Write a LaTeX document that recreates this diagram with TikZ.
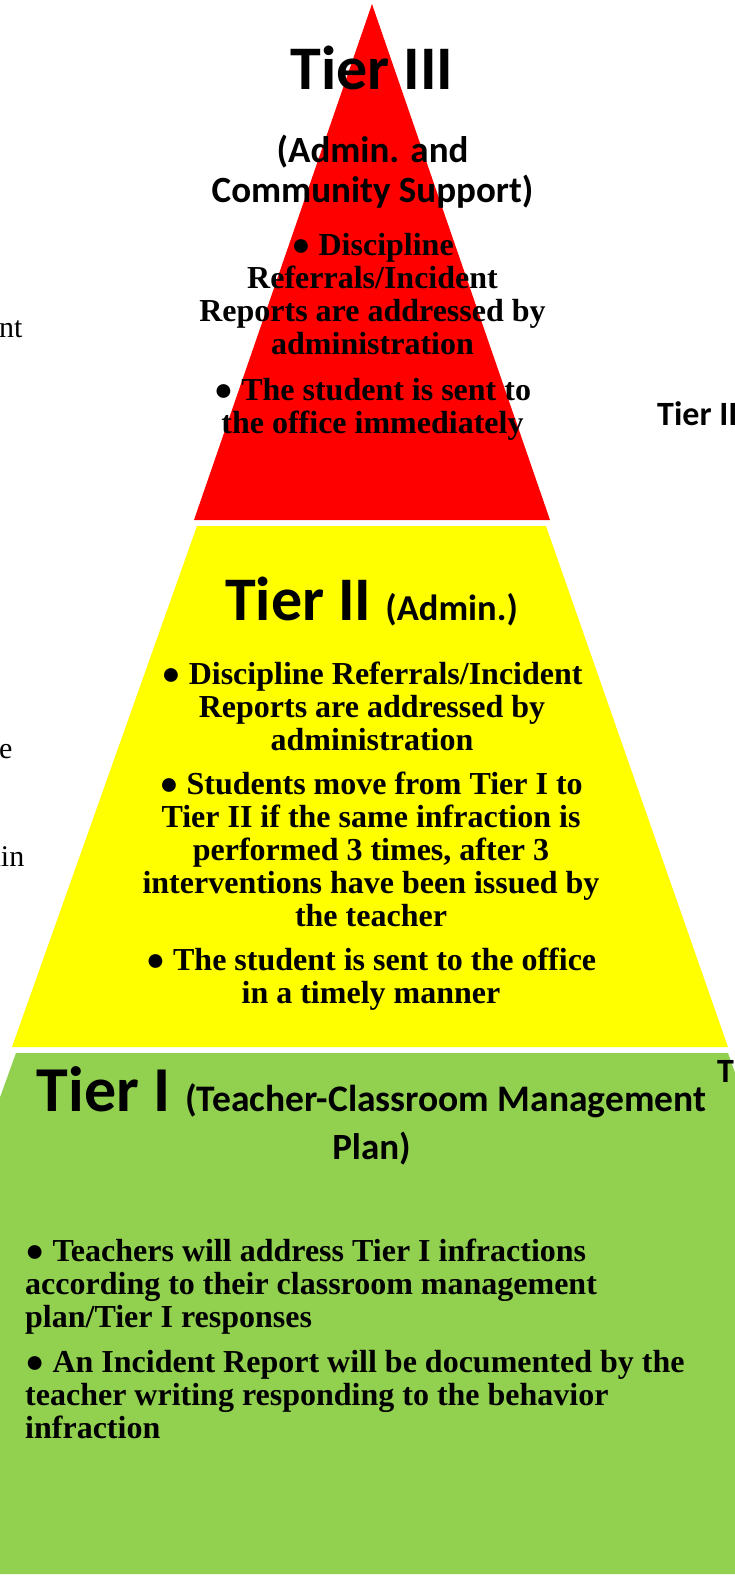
\documentclass[tikz,border=0pt]{standalone}
\usepackage{fontspec}
\setmainfont{Liberation Serif}
\newfontfamily\calibri{Carlito}
\usetikzlibrary{positioning}
\definecolor{tierred}{HTML}{FF0000}
\definecolor{tieryellow}{HTML}{FFFF00}
\definecolor{tiergreen}{HTML}{92D050}

\begin{document}
\begin{tikzpicture}[x=1pt, y=-1pt,
		tiertitle/.style={inner sep=0pt, anchor=base, font=\calibri\bfseries\fontsize{62}{62}\selectfont},
		tiersub/.style={inner sep=0pt, anchor=base, align=center, font=\calibri\bfseries\fontsize{37}{40}\selectfont},
		tierpoint/.style={inner sep=0pt, anchor=base, align=center, font=\bfseries\fontsize{32}{32.8}\selectfont},
		tierleft/.style={inner sep=0pt, anchor=base west, align=left, font=\bfseries\fontsize{32}{32.8}\selectfont},
		behindserif/.style={inner sep=0pt, font=\fontsize{30}{30}\selectfont},
		behindsans/.style={inner sep=0pt, anchor=base west, font=\calibri\bfseries\fontsize{34}{34}\selectfont}]

		\useasboundingbox (0,0) rectangle (735,1579);
		\clip (0,0) rectangle (735,1579);

		\fill[tierred]    (372,4) -- (550,520) -- (194,520) -- cycle;
		\fill[tieryellow] (197,526) -- (546,526) -- (728,1047) -- (12,1047) -- cycle;
		\fill[tiergreen]  (16,1053) -- (728,1053) -- (915,1574) -- (-172,1574) -- cycle;

		\node[tiertitle] (tier3)    at (372,89)    {Tier III};
		\node[tiersub]   (tier3sub) at (372.5,202) {(Admin. and\\Community Support)};
		\node[tierpoint] (tier3a)   at (372.5,354) {● Discipline\\Referrals/Incident\\Reports are addressed by\\administration};
		\node[tierpoint] (tier3b)   at (372.5,433) {● The student is sent to\\the office immediately};

		\node[tiertitle] (tier2)    at (371.5,620) {Tier II {\fontsize{36.5}{36.5}\selectfont (Admin.)}};
		\node[tierpoint] (tier2a)   at (372,750)   {● Discipline Referrals/Incident\\Reports are addressed by\\administration};
		\node[tierpoint] (tier2b)   at (371,926)   {● Students move from Tier I to\\Tier II if the same infraction is\\performed 3 times, after 3\\interventions have been issued by\\the teacher};
		\node[tierpoint] (tier2c)   at (371,1003)  {● The student is sent to the office\\in a timely manner};

		\node[tiertitle, font=\calibri\bfseries\fontsize{64}{64}\selectfont] (tier1) at (371.5,1111) {Tier I {\fontsize{37.5}{37.5}\selectfont (Teacher-Classroom Management}};
		\node[tiersub]   (tier1plan) at (371.5,1159) {Plan)};
		\node[tierleft]  (tier1a)   at (25,1327)   {● Teachers will address Tier I infractions\\according to their classroom management\\plan/Tier I responses};
		\node[tierleft]  (tier1b)   at (25,1438)   {● An Incident Report will be documented by the\\teacher writing responding to the behavior\\infraction};

		\node[behindserif, anchor=base west] (leftnt) at (-1,337)   {nt};
		\node[behindserif, anchor=base west] (lefte)  at (-1,758)   {e};
		\node[behindserif, anchor=base east] (leftin) at (24.5,866) {ain};
		\node[behindsans] (righttier) at (657,425)  {Tier II};
		\node[behindsans] (rightt)    at (717,1082) {T};
	\end{tikzpicture}
\end{document}
